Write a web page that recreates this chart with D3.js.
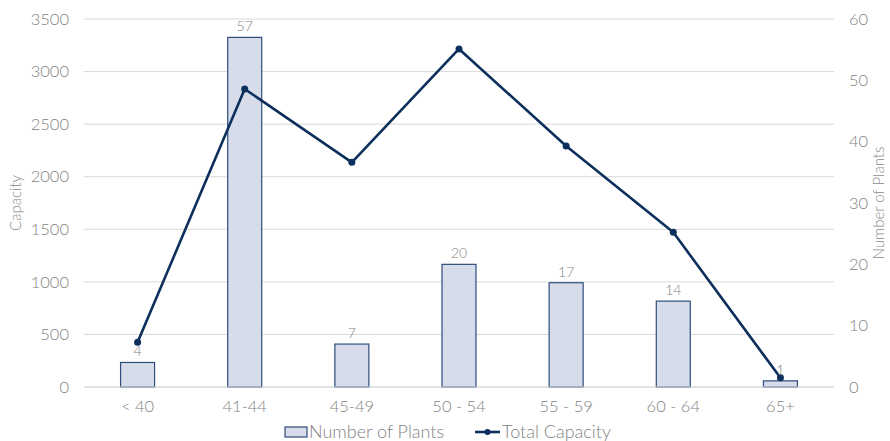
<!DOCTYPE html>
<html><head><meta charset="utf-8">
<script src="https://cdn.jsdelivr.net/npm/d3@7"></script>
<style>body{margin:0;background:#fff;font-family:Lato,"Open Sans",sans-serif;} text{font-family:Lato,sans-serif;font-weight:300;}</style>
</head><body><svg id="c" width="890" height="441"></svg>
<script>
const categories = ["< 40","41-44","45-49","50 - 54","55 - 59","60 - 64","65+"];
const plants = [4,57,7,20,17,14,1];
const capacity = [425,2834,2137,3215,2292,1471,88];
const leftTicks = [0,500,1000,1500,2000,2500,3000,3500];
const rightTicks = [0,10,20,30,40,50,60];

const W=890,H=441;
const m={l:84,r:56,t:19,b:54};
const svg=d3.select("#c");
const x=d3.scaleBand().domain(categories).range([m.l,W-m.r]);
const yL=d3.scaleLinear().domain([0,3500]).range([H-m.b,m.t]);
const yR=d3.scaleLinear().domain([0,60]).range([H-m.b,m.t]);
const gray="#828282";
const fmt=d3.format("d");

// gridlines
svg.append("g").selectAll("line").data(leftTicks).join("line")
 .attr("x1",m.l).attr("x2",W-m.r).attr("y1",d=>yL(d)).attr("y2",d=>yL(d))
 .attr("stroke","#d9d9d9").attr("stroke-width",1);

// left axis
const la=svg.append("g").attr("transform",`translate(${m.l-15},0)`)
 .call(d3.axisLeft(yL).tickValues(leftTicks).tickFormat(fmt).tickSize(0).tickPadding(0));
la.select(".domain").remove();
la.selectAll("text").attr("fill",gray).style("font-family","Lato").style("font-weight","300").style("font-size","16.5px");

// right axis
const ra=svg.append("g").attr("transform",`translate(${W-m.r+15},0)`)
 .call(d3.axisRight(yR).tickValues(rightTicks).tickFormat(fmt).tickSize(0).tickPadding(0));
ra.select(".domain").remove();
ra.selectAll("text").attr("fill",gray).style("font-family","Lato").style("font-weight","300").style("font-size","16.5px");

// x axis labels
const xa=svg.append("g").attr("transform",`translate(0,${H-m.b})`)
 .call(d3.axisBottom(x).tickSize(0).tickPadding(13));
xa.select(".domain").remove();
xa.selectAll("text").attr("fill",gray).style("font-family","Lato").style("font-weight","300").style("font-size","16.5px");

// axis titles
svg.append("text").attr("transform",`translate(21,${(m.t+H-m.b)/2}) rotate(-90)`)
 .attr("text-anchor","middle").attr("fill","#8a8a8a").style("font-size","15px").text("Capacity");
svg.append("text").attr("transform",`translate(884,${(m.t+H-m.b)/2}) rotate(-90)`)
 .attr("text-anchor","middle").attr("fill","#8a8a8a").style("font-size","15px").text("Number of Plants");

// bars
const bw=34;
svg.append("g").selectAll("rect").data(plants).join("rect")
 .attr("x",(d,i)=>x(categories[i])+x.bandwidth()/2-bw/2)
 .attr("width",bw)
 .attr("y",d=>yR(d)).attr("height",d=>yR(0)-yR(d))
 .attr("fill","#d6dce9").attr("stroke","#2e4d7a").attr("stroke-width",1.2);

// baseline
svg.append("line").attr("x1",m.l).attr("x2",W-m.r).attr("y1",yL(0)).attr("y2",yL(0))
 .attr("stroke","#d9d9d9").attr("stroke-width",1);

// line
const line=d3.line().x((d,i)=>x(categories[i])+x.bandwidth()/2).y(d=>yL(d));
svg.append("path").datum(capacity).attr("d",line).attr("fill","none")
 .attr("stroke","#0c2f5c").attr("stroke-width",2.6).attr("stroke-linejoin","round");
svg.append("g").selectAll("circle").data(capacity).join("circle")
 .attr("cx",(d,i)=>x(categories[i])+x.bandwidth()/2).attr("cy",d=>yL(d)).attr("r",3.5)
 .attr("fill","#0c2f5c");

// bar labels
svg.append("g").selectAll("text").data(plants).join("text")
 .attr("x",(d,i)=>x(categories[i])+x.bandwidth()/2).attr("y",d=>yR(d)-6)
 .attr("text-anchor","middle").attr("fill",gray).style("font-size","14px").text(d=>d);

// legend
const lg=svg.append("g");
lg.append("rect").attr("x",285).attr("y",427).attr("width",22).attr("height",10)
 .attr("fill","#d6dce9").attr("stroke","#2e4d7a").attr("stroke-width",1.2);
lg.append("text").attr("x",309).attr("y",438).attr("fill",gray).style("font-size","18px").text("Number of Plants");
lg.append("line").attr("x1",475).attr("x2",500).attr("y1",432).attr("y2",432).attr("stroke","#0c2f5c").attr("stroke-width",2.6);
lg.append("circle").attr("cx",487.5).attr("cy",432).attr("r",3).attr("fill","#0c2f5c");
lg.append("text").attr("x",502).attr("y",438).attr("fill",gray).style("font-size","18px").text("Total Capacity");
</script></body></html>
